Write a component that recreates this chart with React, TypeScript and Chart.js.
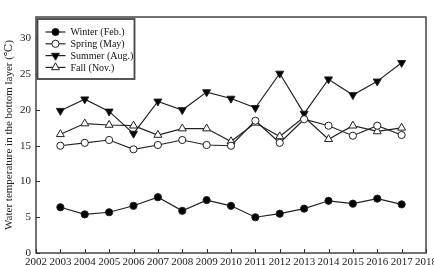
import React, { useEffect, useRef } from "react";
import { Chart, registerables } from "chart.js";

Chart.register(...registerables);

const years = [2003, 2004, 2005, 2006, 2007, 2008, 2009, 2010, 2011, 2012, 2013, 2014, 2015, 2016, 2017];
const winter = [6.4, 5.4, 5.7, 6.6, 7.8, 5.9, 7.4, 6.6, 5.0, 5.5, 6.2, 7.3, 6.9, 7.6, 6.8];
const spring = [15.0, 15.4, 15.8, 14.5, 15.1, 15.8, 15.1, 15.0, 18.5, 15.4, 18.7, 17.8, 16.4, 17.8, 16.5];
const summer = [19.9, 21.5, 19.8, 16.7, 21.2, 20.0, 22.5, 21.6, 20.3, 25.1, 19.5, 24.3, 22.1, 24.0, 26.6];
const fall = [16.6, 18.1, 17.9, 17.8, 16.5, 17.4, 17.4, 15.6, 18.2, 16.3, 19.0, 15.9, 17.8, 17.0, 17.5];
const seriesNames = ["Winter (Feb.)", "Spring (May)", "Summer (Aug.)", "Fall (Nov.)"];
const yTitle = "Water temperature in the bottom layer (\u2103)";

const SERIF = "'Liberation Serif', 'DejaVu Serif', serif";
const INK = "#222";

function drawMarker(ctx: CanvasRenderingContext2D, style: string, r: number, rot: number, x: number, y: number, fill: string) {
  ctx.save();
  ctx.translate(x, y);
  ctx.rotate((rot * Math.PI) / 180);
  ctx.beginPath();
  if (style === "triangle") {
    ctx.moveTo(0, -r);
    ctx.lineTo(r * 0.866, r * 0.5);
    ctx.lineTo(-r * 0.866, r * 0.5);
    ctx.closePath();
  } else {
    ctx.arc(0, 0, r, 0, Math.PI * 2);
  }
  ctx.fillStyle = fill;
  ctx.fill();
  ctx.strokeStyle = INK;
  ctx.lineWidth = 1;
  ctx.stroke();
  ctx.restore();
}

const frameAndTicks = {
  id: "frameAndTicks",
  afterDraw(chart: any) {
    const { ctx, chartArea: a, scales } = chart;
    ctx.save();
    ctx.strokeStyle = "#444";
    ctx.lineWidth = 1.5;
    ctx.strokeRect(a.left, a.top, a.right - a.left, a.bottom - a.top);
    ctx.lineWidth = 1;
    ctx.strokeStyle = "#333";
    ctx.beginPath();
    scales.x.ticks.forEach((t: any) => {
      const x = Math.round(scales.x.getPixelForValue(t.value)) + 0.5;
      ctx.moveTo(x, a.bottom);
      ctx.lineTo(x, a.bottom - 4);
    });
    scales.y.ticks.forEach((t: any) => {
      if (t.value % 5 !== 0) return;
      const y = Math.round(scales.y.getPixelForValue(t.value)) + 0.5;
      ctx.moveTo(a.left, y);
      ctx.lineTo(a.left + 4, y);
    });
    ctx.stroke();

    // legend box
    const lx = a.left + 1.5, ly = a.top + 2;
    const lw = 97, lh = 60;
    ctx.fillStyle = "#fff";
    ctx.fillRect(lx, ly, lw, lh);
    ctx.strokeStyle = "#444";
    ctx.lineWidth = 1.8;
    ctx.strokeRect(lx, ly, lw, lh);
    chart.data.datasets.forEach((ds: any, i: number) => {
      const cy = ly + 13 + i * 11.8;
      ctx.strokeStyle = INK;
      ctx.lineWidth = 1.2;
      ctx.beginPath();
      ctx.moveTo(lx + 8, cy);
      ctx.lineTo(lx + 28, cy);
      ctx.stroke();
      drawMarker(ctx, ds.pointStyle, ds.pointRadius, ds.pointRotation || 0, lx + 18, cy, ds.pointBackgroundColor);
      ctx.fillStyle = "#111";
      ctx.font = `10px ${SERIF}`;
      ctx.textBaseline = "middle";
      ctx.textAlign = "left";
      ctx.fillText(ds.label, lx + 33, cy + 0.5);
    });
    ctx.restore();
  },
};

export default function App() {
  const ref = useRef<HTMLCanvasElement>(null);
  useEffect(() => {
    if (!ref.current) return;
    const mk = (label: string, data: number[], style: string, fill: string, radius: number, rot = 0) => ({
      label,
      data: years.map((y, i) => ({ x: y, y: data[i] })),
      borderColor: INK,
      borderWidth: 1.2,
      pointStyle: style,
      pointRotation: rot,
      pointRadius: radius,
      pointBackgroundColor: fill,
      pointBorderColor: INK,
      pointBorderWidth: 1,
      tension: 0,
    });
    const chart = new Chart(ref.current, {
      type: "line",
      data: {
        datasets: [
          mk(seriesNames[0], winter, "circle", "#000", 3.6),
          mk(seriesNames[1], spring, "circle", "#fff", 3.6),
          mk(seriesNames[2], summer, "triangle", "#000", 4.6, 180),
          mk(seriesNames[3], fall, "triangle", "#fff", 4.6),
        ] as any,
      },
      options: {
        animation: false,
        responsive: false,
        maintainAspectRatio: false,
        layout: { padding: { top: 17, right: 8, left: 0, bottom: 0 } },
        plugins: { legend: { display: false }, tooltip: { enabled: false } },
        scales: {
          x: {
            type: "linear",
            min: 2002,
            max: 2018,
            ticks: { stepSize: 1, color: "#222", font: { family: SERIF, size: 11 }, padding: 3, maxRotation: 0, autoSkip: false, callback: (v: any) => String(v) },
            grid: { display: false, drawTicks: false },
            border: { display: false },
            afterFit: (s: any) => { s.height = 12; s.paddingLeft = 0; s.paddingRight = 0; },
          },
          y: {
            min: 0,
            max: 33,
            ticks: { stepSize: 5, includeBounds: false, color: "#222", font: { family: SERIF, size: 11 }, padding: 5, callback: (v: any) => (v % 5 === 0 ? String(v) : "") },
            grid: { display: false, drawTicks: false },
            border: { display: false },
            title: { display: true, text: yTitle, color: "#222", font: { family: SERIF, size: 11 }, padding: { top: 3, bottom: 0 } },
            afterFit: (s: any) => { s.width = 36; },
          },
        },
      } as any,
      plugins: [frameAndTicks],
    });
    return () => chart.destroy();
  }, []);
  return (
    <div style={{ position: "fixed", left: 0, top: 0, width: 434, height: 265, background: "#fff" }}>
      <canvas ref={ref} width={434} height={265} style={{ width: 434, height: 265 }} />
    </div>
  );
}
